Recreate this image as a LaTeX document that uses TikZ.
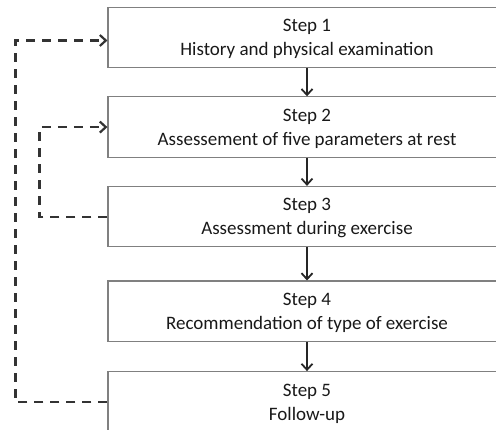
\documentclass[tikz,border=0pt]{standalone}
\usepackage{fontspec}
\setmainfont{Carlito}
\usetikzlibrary{arrows.meta,positioning}

\begin{document}
\begin{tikzpicture}[x=1pt, y=-1pt, >={Straight Barb[length=6pt,width=11pt]},
	   font=\fontsize{19}{24}\selectfont,
	   stepbox/.style={draw=black!50, line width=1.1pt, align=center, text=black!90,
	     minimum width=398pt, minimum height=60.5pt, inner sep=0pt, text depth=0pt},
	   back/.style={->, line width=2.2pt, draw=black!80, dash pattern=on 9pt off 7pt},
	   flow/.style={->, line width=1.8pt, draw=black!85}]
	  \clip (0,0) rectangle (496,430);
	  \node[stepbox] (s1) at (307,37.5) {Step 1\\ History and physical examination};
	  \node[stepbox, below=28pt of s1] (s2) {Step 2\\ Assessement of five parameters at rest};
	  \node[stepbox, below=28pt of s2] (s3) {Step 3\\ Assessment during exercise};
	  \node[stepbox, below=33pt of s3] (s4) {Step 4\\ Recommendation of type of exercise};
	  \node[stepbox, below=29pt of s4] (s5) {Step 5\\ Follow-up};
	  % main sequence
	  \foreach \a/\b in {s1/s2, s2/s3, s3/s4, s4/s5}
	    \draw[flow] (\a) -- (\b);
	  % feedback loops
	  \draw[back] (s3.west) -- ++(-68,0) |- (s2.west);
	  \draw[back] (s5.west) -- ++(-92,0) |- ([yshift=-3pt]s1.west);
	\end{tikzpicture}
\end{document}
